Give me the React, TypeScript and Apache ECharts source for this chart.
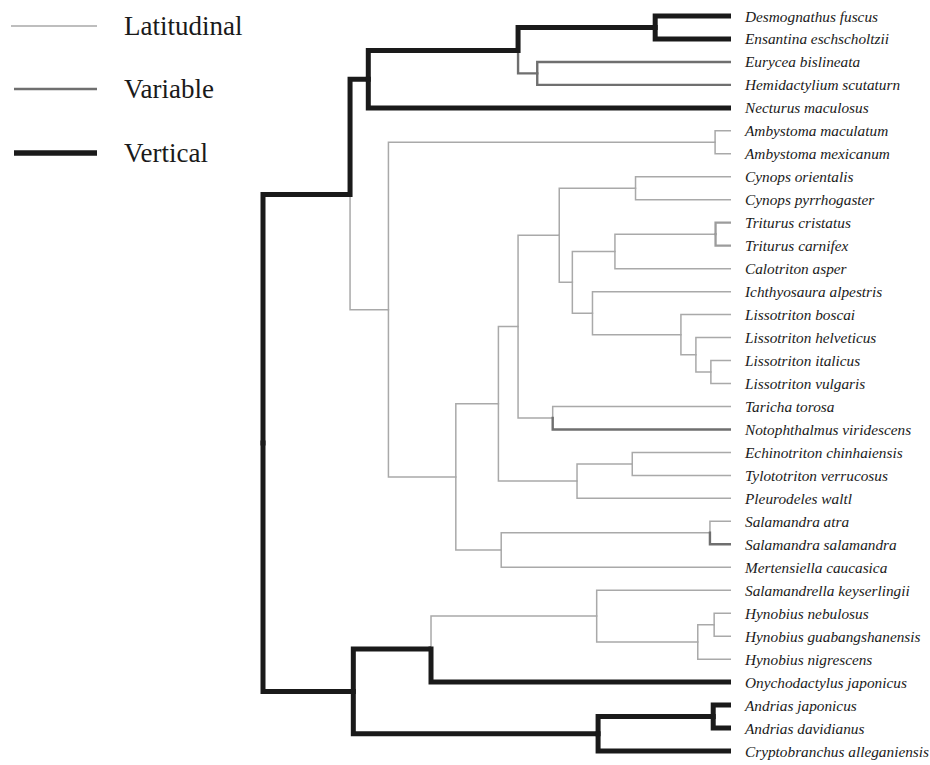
import React, { useEffect, useRef } from "react";
import * as echarts from "echarts";

// Tip labels, top to bottom
const leafNames = [
  "Desmognathus fuscus",
  "Ensantina eschscholtzii",
  "Eurycea bislineata",
  "Hemidactylium scutaturn",
  "Necturus maculosus",
  "Ambystoma maculatum",
  "Ambystoma mexicanum",
  "Cynops orientalis",
  "Cynops pyrrhogaster",
  "Triturus cristatus",
  "Triturus carnifex",
  "Calotriton asper",
  "Ichthyosaura alpestris",
  "Lissotriton boscai",
  "Lissotriton helveticus",
  "Lissotriton italicus",
  "Lissotriton vulgaris",
  "Taricha torosa",
  "Notophthalmus viridescens",
  "Echinotriton chinhaiensis",
  "Tylototriton verrucosus",
  "Pleurodeles waltl",
  "Salamandra atra",
  "Salamandra salamandra",
  "Mertensiella caucasica",
  "Salamandrella keyserlingii",
  "Hynobius nebulosus",
  "Hynobius guabangshanensis",
  "Hynobius nigrescens",
  "Onychodactylus japonicus",
  "Andrias japonicus",
  "Andrias davidianus",
  "Cryptobranchus alleganiensis",
];

// Internal nodes and their depth (root = 0, tips = 100)
const nodeIds = [
  "n0", "n1", "n2", "n3", "n4", "n5", "n6", "n7", "n8", "n9",
  "n10", "n11", "n12", "n13", "n14", "n15", "n16", "n17", "n18", "n19",
  "n20", "n21", "n22", "n23", "n24", "n25", "n26", "n27", "n28", "n29",
  "n30", "n31",
];
const nodeDepths = [
  0, 18.6, 19.3, 22.5, 54.5, 83.8, 58.6, 26.8, 96.6, 41.2,
  50.3, 54.5, 63.3, 79.6, 66.1, 75.2, 96.7, 70.4, 89.3, 92.5,
  95.7, 61.9, 67.1, 78.9, 50.9, 95.5, 35.9, 71.3, 92.9, 96.4,
  71.6, 96.2,
];
const leafDepth = 100;

// Legend classes
const stateNames = ["Latitudinal", "Variable", "Vertical"];

// Edges: parent, child (Lk = tip k), state
const edges: [string, string, string][] = [
  ["n0", "n1", "Vertical"], ["n0", "n2", "Vertical"],
  ["n1", "n3", "Vertical"], ["n1", "n7", "Latitudinal"],
  ["n3", "n4", "Vertical"], ["n3", "L4", "Vertical"],
  ["n4", "n5", "Vertical"], ["n4", "n6", "Variable"],
  ["n5", "L0", "Vertical"], ["n5", "L1", "Vertical"],
  ["n6", "L2", "Variable"], ["n6", "L3", "Variable"],
  ["n7", "n8", "Latitudinal"], ["n7", "n9", "Latitudinal"],
  ["n8", "L5", "Latitudinal"], ["n8", "L6", "Latitudinal"],
  ["n9", "n10", "Latitudinal"], ["n9", "n24", "Latitudinal"],
  ["n10", "n11", "Latitudinal"], ["n10", "n22", "Latitudinal"],
  ["n11", "n12", "Latitudinal"], ["n11", "n21", "Latitudinal"],
  ["n12", "n13", "Latitudinal"], ["n12", "n14", "Latitudinal"],
  ["n13", "L7", "Latitudinal"], ["n13", "L8", "Latitudinal"],
  ["n14", "n15", "Latitudinal"], ["n14", "n17", "Latitudinal"],
  ["n15", "n16", "Latitudinal"], ["n15", "L11", "Latitudinal"],
  ["n16", "L9", "Mixed"], ["n16", "L10", "Mixed"],
  ["n17", "L12", "Latitudinal"], ["n17", "n18", "Latitudinal"],
  ["n18", "L13", "Latitudinal"], ["n18", "n19", "Latitudinal"],
  ["n19", "L14", "Latitudinal"], ["n19", "n20", "Latitudinal"],
  ["n20", "L15", "Latitudinal"], ["n20", "L16", "Latitudinal"],
  ["n21", "L17", "Latitudinal"], ["n21", "L18", "Variable"],
  ["n22", "n23", "Latitudinal"], ["n22", "L21", "Latitudinal"],
  ["n23", "L19", "Latitudinal"], ["n23", "L20", "Latitudinal"],
  ["n24", "n25", "Latitudinal"], ["n24", "L24", "Latitudinal"],
  ["n25", "L22", "Latitudinal"], ["n25", "L23", "Variable"],
  ["n2", "n26", "Vertical"], ["n2", "n30", "Vertical"],
  ["n26", "n27", "Latitudinal"], ["n26", "L29", "Vertical"],
  ["n27", "L25", "Latitudinal"], ["n27", "n28", "Latitudinal"],
  ["n28", "n29", "Latitudinal"], ["n28", "L28", "Latitudinal"],
  ["n29", "L26", "Latitudinal"], ["n29", "L27", "Latitudinal"],
  ["n30", "n31", "Vertical"], ["n30", "L32", "Vertical"],
  ["n31", "L30", "Vertical"], ["n31", "L31", "Vertical"],
];

const STYLES: Record<string, { color: string; width: number; order: number }> = {
  Latitudinal: { color: "#a9a9a9", width: 1.5, order: 0 },
  Mixed: { color: "#9c9c9c", width: 2.3, order: 1 },
  Variable: { color: "#6f6f6f", width: 2.4, order: 2 },
  Vertical: { color: "#1a1a1a", width: 5, order: 3 },
};
const STYLE_KEYS = ["Latitudinal", "Mixed", "Variable", "Vertical"];

function buildEdgeData() {
  const children: Record<string, string[]> = {};
  edges.forEach(([p, c]) => {
    (children[p] = children[p] || []).push(c);
  });
  const yCache: Record<string, number> = {};
  const yOf = (id: string): number => {
    if (id[0] === "L") return Number(id.slice(1));
    if (yCache[id] !== undefined) return yCache[id];
    const ys = children[id].map(yOf);
    const v = (Math.min(...ys) + Math.max(...ys)) / 2;
    yCache[id] = v;
    return v;
  };
  const xOf = (id: string): number =>
    id[0] === "L" ? leafDepth : nodeDepths[nodeIds.indexOf(id)];
  const data = edges.map(([p, c, s]) => [
    xOf(p),
    yOf(p),
    xOf(c),
    yOf(c),
    STYLE_KEYS.indexOf(s),
  ]);
  data.sort((a, b) => STYLES[STYLE_KEYS[a[4]]].order - STYLES[STYLE_KEYS[b[4]]].order);
  return data;
}

const FONT = "'Liberation Serif', 'Times New Roman', serif";

export default function App() {
  const ref = useRef<HTMLDivElement>(null);
  useEffect(() => {
    document.body.style.margin = "0";
    const chart = echarts.init(ref.current!, null, { renderer: "svg" });
    const data = buildEdgeData();
    const legendY = [26, 89, 153];
    const legendX0 = [11, 14, 14];
    const graphic: any[] = [];
    stateNames.forEach((name, i) => {
      const st = STYLES[name];
      graphic.push({
        type: "line",
        shape: { x1: legendX0[i], y1: legendY[i], x2: 97, y2: legendY[i] },
        style: { stroke: st.color, lineWidth: st.width === 5 ? 5.5 : st.width },
        silent: true,
      });
      graphic.push({
        type: "text",
        x: 124,
        y: legendY[i],
        style: {
          text: name,
          font: `27px ${FONT}`,
          fill: "#1a1a1a",
          verticalAlign: "middle",
          align: "left",
        },
        silent: true,
      });
    });

    chart.setOption({
      animation: false,
      backgroundColor: "#ffffff",
      grid: {
        left: 263,
        right: 199,
        top: 16,
        bottom: 14,
        containLabel: false,
        outerBoundsMode: "none",
      },
      xAxis: { type: "value", min: 0, max: 100, show: false },
      yAxis: {
        type: "value",
        min: 0,
        max: leafNames.length - 1,
        interval: 1,
        inverse: true,
        position: "right",
        axisLine: { show: false },
        axisTick: { show: false },
        splitLine: { show: false },
        axisLabel: {
          formatter: (v: number) => leafNames[Math.round(v)] ?? "",
          margin: 14,
          fontFamily: FONT,
          fontStyle: "italic",
          fontSize: 15.3,
          color: "#1a1a1a",
        },
      },
      graphic,
      series: [
        {
          type: "custom",
          coordinateSystem: "cartesian2d",
          encode: { x: [0, 2], y: [1, 3] },
          silent: true,
          renderItem: (params: any, api: any) => {
            const p = api.coord([api.value(0), api.value(1)]);
            const c = api.coord([api.value(2), api.value(3)]);
            const st = STYLES[STYLE_KEYS[api.value(4)]];
            const dir = Math.sign(c[1] - p[1]);
            const startY = p[1] - dir * (st.width / 2);
            return {
              type: "polyline",
              shape: {
                points: [
                  [p[0], startY],
                  [p[0], c[1]],
                  [c[0], c[1]],
                ],
              },
              style: {
                stroke: st.color,
                lineWidth: st.width,
                fill: null,
                lineJoin: "miter",
                lineCap: "butt",
              },
            };
          },
          data,
        },
      ],
    });
    return () => chart.dispose();
  }, []);
  return <div ref={ref} style={{ width: 930, height: 765 }} />;
}
